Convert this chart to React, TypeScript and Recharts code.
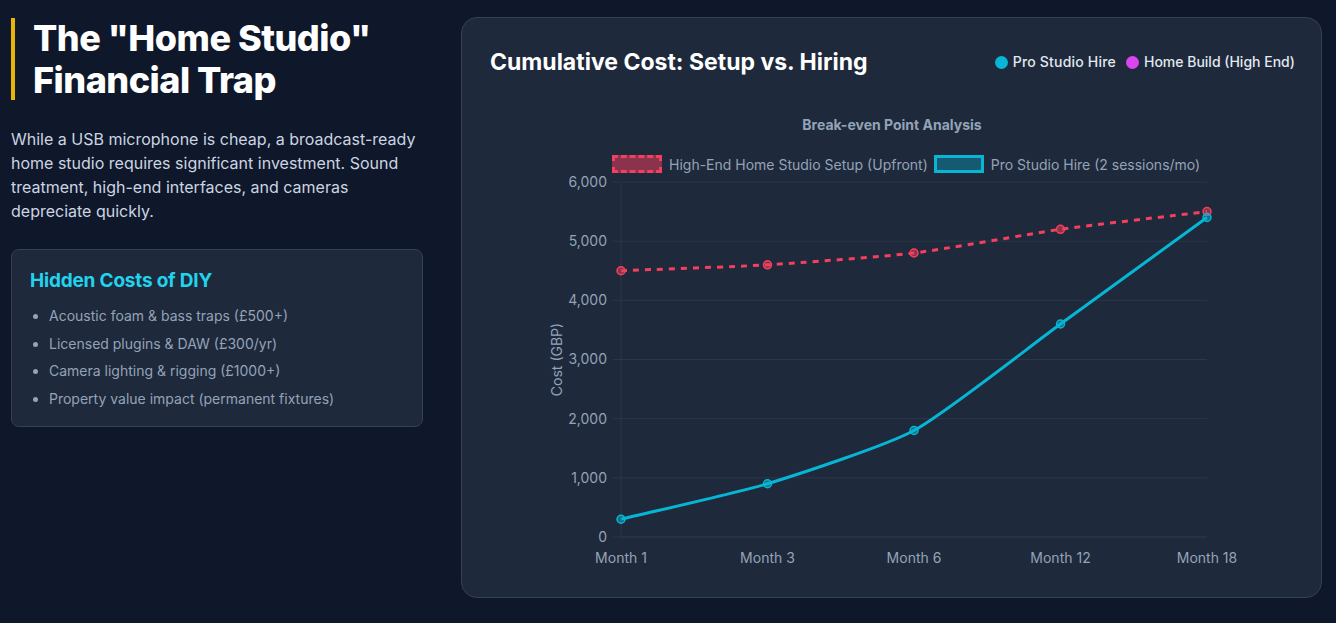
import {
  CartesianGrid,
  Line,
  LineChart,
  XAxis,
  YAxis,
} from "recharts";

const months = ["Month 1", "Month 3", "Month 6", "Month 12", "Month 18"];
const homeSetup = [4500, 4600, 4800, 5200, 5500];
const proHire = [300, 900, 1800, 3600, 5400];
const yTicks = [0, 1000, 2000, 3000, 4000, 5000, 6000];

const hiddenCosts = [
  "Acoustic foam & bass traps (£500+)",
  "Licensed plugins & DAW (£300/yr)",
  "Camera lighting & rigging (£1000+)",
  "Property value impact (permanent fixtures)",
];

const data = months.map((m, i) => ({ month: m, home: homeSetup[i], pro: proHire[i] }));

const RED = "#f43f5e";
const CYAN = "#06b6d4";
const MUTED = "#94a3b8";
const GRID = "#2b374a";

// spline with a light tension, like the canvas chart in the reference
function tensionCurve(ctx: any) {
  let pts: [number, number][] = [];
  const t = 0.2;
  return {
    areaStart() {},
    areaEnd() {},
    lineStart() {
      pts = [];
    },
    point(x: number, y: number) {
      pts.push([x, y]);
    },
    lineEnd() {
      if (!pts.length) return;
      const n = pts.length;
      const cpIn: [number, number][] = [];
      const cpOut: [number, number][] = [];
      for (let i = 0; i < n; i++) {
        const prev = pts[Math.max(0, i - 1)];
        const cur = pts[i];
        const next = pts[Math.min(n - 1, i + 1)];
        const d01 = Math.hypot(cur[0] - prev[0], cur[1] - prev[1]);
        const d12 = Math.hypot(next[0] - cur[0], next[1] - cur[1]);
        let s01 = d01 / (d01 + d12);
        let s12 = d12 / (d01 + d12);
        if (isNaN(s01)) s01 = 0;
        if (isNaN(s12)) s12 = 0;
        const fa = t * s01;
        const fb = t * s12;
        cpIn.push([cur[0] - fa * (next[0] - prev[0]), cur[1] - fa * (next[1] - prev[1])]);
        cpOut.push([cur[0] + fb * (next[0] - prev[0]), cur[1] + fb * (next[1] - prev[1])]);
      }
      ctx.moveTo(pts[0][0], pts[0][1]);
      for (let i = 1; i < n; i++) {
        ctx.bezierCurveTo(cpOut[i - 1][0], cpOut[i - 1][1], cpIn[i][0], cpIn[i][1], pts[i][0], pts[i][1]);
      }
    },
  };
}

export default function App() {
  return (
    <div
      style={{
        position: "absolute",
        left: 0,
        top: 0,
        width: 1336,
        height: 623,
        background: "#0f172a",
        fontFamily: "Inter, sans-serif",
        overflow: "hidden",
      }}
    >
      {/* left column */}
      <div style={{ position: "absolute", left: 11, top: 18, width: 4, height: 82, background: "#eab308" }} />
      <div
        style={{
          position: "absolute",
          left: 33,
          top: 17,
          fontSize: 36,
          fontWeight: 800,
          lineHeight: "42px",
          color: "#ffffff",
          letterSpacing: -0.5,
        }}
      >
        The "Home Studio"
        <br />
        Financial Trap
      </div>
      <div
        style={{
          position: "absolute",
          left: 11,
          top: 127,
          width: 416,
          fontSize: 16,
          lineHeight: "24px",
          color: "#cbd5e1",
        }}
      >
        While a USB microphone is cheap, a broadcast-ready home studio requires significant investment. Sound
        treatment, high-end interfaces, and cameras depreciate quickly.
      </div>
      <div
        style={{
          position: "absolute",
          left: 11,
          top: 249,
          width: 410,
          height: 176,
          background: "#1e293b",
          border: "1px solid #334155",
          borderRadius: 8,
        }}
      >
        <div
          style={{
            position: "absolute",
            left: 18,
            top: 19,
            fontSize: 19,
            fontWeight: 700,
            color: "#22d3ee",
            letterSpacing: -0.2,
          }}
        >
          Hidden Costs of DIY
        </div>
        <ul
          style={{
            position: "absolute",
            left: 0,
            top: 52,
            margin: 0,
            paddingLeft: 37,
            fontSize: 14,
            lineHeight: "27.7px",
            color: MUTED,
          }}
        >
          {hiddenCosts.map((t) => (
            <li key={t}>{t}</li>
          ))}
        </ul>
      </div>

      {/* chart card */}
      <div
        style={{
          position: "absolute",
          left: 461,
          top: 17,
          width: 859,
          height: 579,
          background: "#1e293b",
          border: "1px solid #334155",
          borderRadius: 16,
        }}
      />
      <div
        style={{
          position: "absolute",
          left: 490,
          top: 46,
          fontSize: 23,
          fontWeight: 700,
          color: "#ffffff",
          lineHeight: "32px",
        }}
      >
        Cumulative Cost: Setup vs. Hiring
      </div>
      <div
        style={{
          position: "absolute",
          right: 1336 - 1295,
          top: 52,
          display: "flex",
          alignItems: "center",
          gap: 5,
          fontSize: 14,
          fontWeight: 500,
          color: "#e2e8f0",
          lineHeight: "20px",
        }}
      >
        <span style={{ width: 13, height: 13, borderRadius: "50%", background: CYAN, display: "inline-block" }} />
        <span style={{ marginRight: 5, letterSpacing: 0.2 }}>Pro Studio Hire</span>
        <span style={{ width: 13, height: 13, borderRadius: "50%", background: "#d946ef", display: "inline-block" }} />
        <span>Home Build (High End)</span>
      </div>

      <div
        style={{
          position: "absolute",
          left: 692,
          width: 400,
          top: 116,
          textAlign: "center",
          fontSize: 14,
          fontWeight: 700,
          color: MUTED,
        }}
      >
        Break-even Point Analysis
      </div>
      <div
        style={{
          position: "absolute",
          left: 612,
          top: 155,
          display: "flex",
          alignItems: "center",
          fontSize: 14,
          color: MUTED,
          lineHeight: "17px",
        }}
      >
        <span
          style={{
            width: 44,
            height: 12,
            border: `3px dashed ${RED}`,
            background: "rgba(244,63,94,0.5)",
            display: "inline-block",
            marginRight: 7,
          }}
        />
        <span style={{ marginRight: 6 }}>High-End Home Studio Setup (Upfront)</span>
        <span
          style={{
            width: 44,
            height: 12,
            border: `3px solid ${CYAN}`,
            background: "rgba(6,182,212,0.35)",
            display: "inline-block",
            marginRight: 7,
          }}
        />
        <span>Pro Studio Hire (2 sessions/mo)</span>
      </div>

      <div style={{ position: "absolute", left: 540, top: 165 }}>
        <LineChart
          width={700}
          height={410}
          data={data}
          margin={{ top: 17, right: 33, bottom: 8, left: 0 }}
          style={{ fontFamily: "Inter, sans-serif" }}
        >
          <CartesianGrid stroke={GRID} vertical={false} />
          <XAxis
            dataKey="month"
            axisLine={{ stroke: GRID }}
            tickLine={false}
            tickMargin={10}
            height={30}
            interval={0}
            tick={{ fill: MUTED, fontSize: 14 }}
          />
          <YAxis
            width={81}
            domain={[0, 6000]}
            ticks={yTicks}
            interval={0}
            axisLine={{ stroke: GRID }}
            tickLine={{ stroke: GRID }}
            tickSize={8}
            tickMargin={6}
            tickFormatter={(v: number) => v.toLocaleString("en-US")}
            tick={{ fill: MUTED, fontSize: 14 }}
            label={{
              value: "Cost (GBP)",
              angle: -90,
              position: "insideLeft",
              offset: 17,
              style: { fill: MUTED, fontSize: 14, textAnchor: "middle" },
            }}
          />
          <Line
            type={tensionCurve as any}
            dataKey="home"
            stroke={RED}
            strokeWidth={3}
            strokeDasharray="6 6"
            dot={{ r: 4, fill: "rgba(244,63,94,0.5)", stroke: RED, strokeWidth: 1.5, strokeDasharray: "" }}
            isAnimationActive={false}
          />
          <Line
            type={tensionCurve as any}
            dataKey="pro"
            stroke={CYAN}
            strokeWidth={3}
            dot={{ r: 4, fill: "rgba(6,182,212,0.5)", stroke: CYAN, strokeWidth: 1.5 }}
            isAnimationActive={false}
          />
        </LineChart>
      </div>
    </div>
  );
}
